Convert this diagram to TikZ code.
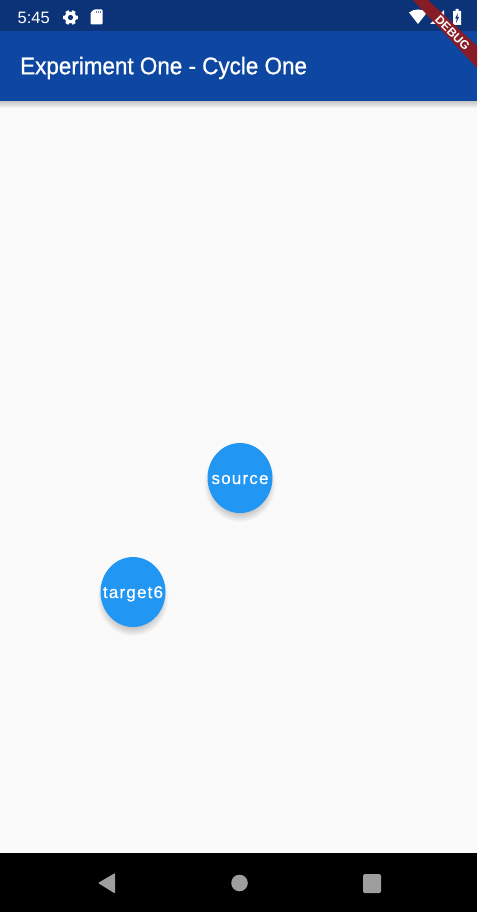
\documentclass[tikz,border=0pt]{standalone}
\usepackage{fontspec}
\setmainfont{Liberation Sans}
\newfontfamily\lblfont[LetterSpace=7,FakeBold=0.6]{Liberation Sans}
\newfontfamily\titlefont[FakeBold=0.9]{Liberation Sans}
\usetikzlibrary{calc}
\definecolor{statusblue}{HTML}{0C3378}
\definecolor{barblue}{HTML}{0D47A1}
\definecolor{pagebg}{HTML}{FAFAFA}
\definecolor{nodeblue}{HTML}{2196F3}
\definecolor{navgrey}{HTML}{9E9E9E}
\definecolor{ribbonred}{HTML}{8E1A22}
\tikzset{
  bubbletext/.style={text=white,font=\lblfont\fontsize{17}{17}\selectfont,inner sep=0pt,anchor=base},
  softshadow/.style={fill=black,fill opacity=0.022,draw=none},
  statusicon/.style={fill=white,draw=none},
  navicon/.style={fill=navgrey,draw=none},
}
\newcommand{\shadowbubble}[2]{%
  \foreach \g in {-6,-5,...,3}{
    \fill[softshadow] (#1,#2+6) ellipse ({32.5+\g} and {35+\g});
  }
  \fill[nodeblue] (#1,#2) ellipse (32.5 and 35);
}
\begin{document}
\begin{tikzpicture}[x=1pt,y=-1pt]
\useasboundingbox (0,0) rectangle (477,912);
% page
\fill[pagebg] (0,0) rectangle (477,912);
% app bar shadow
\foreach \d in {1,2,...,7}{
  \fill[black,fill opacity=0.03] (0,101) rectangle (477,{101+\d});
}
% status + app bars
\fill[barblue] (0,31) rectangle (477,101);
\fill[statusblue] (0,0) rectangle (477,31);
% status bar left
\node[anchor=west,text=white,font=\fontsize{16.5}{16.5}\selectfont,inner sep=0pt] (clock) at (17.5,18) {5:45};
% gear
\fill[statusicon] (70.5,17.5) circle (5.8);
\foreach \a in {0,60,...,300}{
  \fill[statusicon] ($(70.5,17.5)+(\a-20:5.4)$) -- ($(70.5,17.5)+(\a-13:7.6)$) -- ($(70.5,17.5)+(\a+13:7.6)$) -- ($(70.5,17.5)+(\a+20:5.4)$) -- cycle;
}
\fill[statusblue] (70.5,17.5) circle (2.6);
% sd card
\fill[statusicon,rounded corners=1pt] (94,9.5) -- (102.5,9.5) -- (102.5,24.5) -- (90.5,24.5) -- (90.5,13) -- cycle;
\foreach \cx in {95.5,97.5,99.5}{
  \fill[statusblue,fill opacity=0.6] (\cx,11) rectangle (\cx+1,13);
}
% wifi
\fill[statusicon] (409,12.5) .. controls (414,8.5) and (422,8.5) .. (427,12.5) -- (418,24) -- cycle;
% cell
\fill[statusicon] (430,24) -- (444,24) -- (444,10) -- cycle;
% battery
\fill[statusicon] (453,11) -- (455.5,11) -- (455.5,9) -- (458.5,9) -- (458.5,11) -- (461,11) -- (461,25) -- (453,25) -- cycle;
\fill[statusblue] (458,13) -- (455,18.5) -- (456.7,18.5) -- (456,23) -- (459,17) -- (457.3,17) -- cycle;
% title
\node[anchor=west,text=white,font=\titlefont\fontsize{24}{24}\selectfont,inner sep=0pt,xscale=0.935] (title) at (20,68) {Experiment One - Cycle One};
% debug ribbon
\fill[ribbonred,fill opacity=0.95] (413,0) -- (428,0) -- (477,46) -- (477,68) -- cycle;
\node[rotate=-45,text=white,font=\bfseries\fontsize{12}{12}\selectfont,inner sep=0pt] (debug) at (452.5,33) {DEBUG};
% nodes
\shadowbubble{240}{478}
\node[bubbletext] (source) at (240,484) {source};
\shadowbubble{133}{592}
\node[bubbletext] (target) at (133,598) {target6};
% nav bar
\fill[black] (0,853) rectangle (477,912);
\fill[navicon,rounded corners=0.8pt] (115,873) -- (115,893.5) -- (98,883) -- cycle;
\fill[navicon] (239.5,883) circle (8.3);
\fill[navicon,rounded corners=1.5pt] (363,874) rectangle (381,893);
\end{tikzpicture}
\end{document}
